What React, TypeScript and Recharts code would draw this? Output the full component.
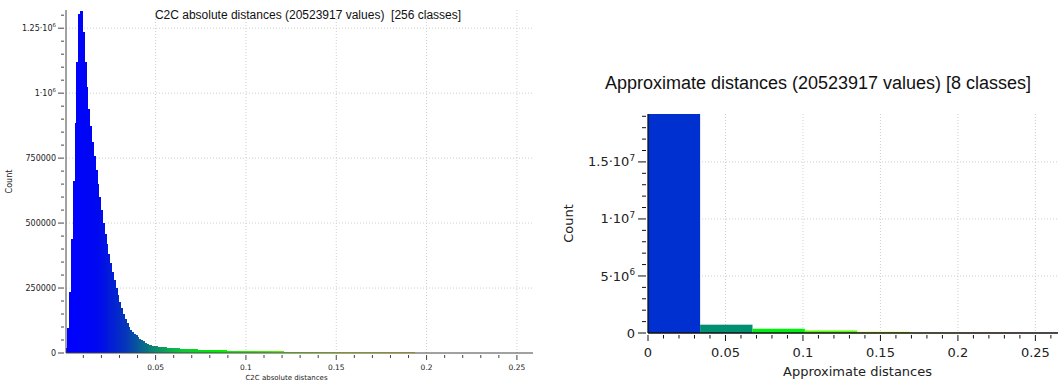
import { BarChart, Bar, Cell, XAxis, YAxis, CartesianGrid } from "recharts";

// ---- C2C absolute distances (left histogram, 256 classes) ----
const c2cTitle = "C2C absolute distances (20523917 values)  [256 classes]";
const c2cRange = [0.0004, 0.2589];
const c2cYMax = 1320000;
const c2cXMajor = [0.05, 0.1, 0.15, 0.2, 0.25];
const c2cYMajor = [0, 250000, 500000, 750000, 1000000, 1250000];
const c2cCounts = [
  18000, 95000, 236000, 440000, 662000, 884000, 1118000, 1306000, 1318000, 1236000,
  1118000, 1022000, 940000, 873000, 812000, 757000, 703000, 651000, 600000, 549000,
  501000, 458000, 419000, 381000, 346000, 312000, 280000, 250000, 222000, 196000,
  172000, 150000, 131000, 114000, 100000, 89000, 80500, 74000, 67500, 61000,
  55000, 49500, 44500, 40000, 36000, 32500, 29500, 27500, 26300, 25400,
  24600, 23700, 22900, 22200, 21600, 20900, 20300, 19800, 19200, 18700,
  18100, 17600, 17200, 16700, 16300, 15800, 15400, 15100, 14700, 14300,
  14000, 13700, 13300, 13000, 12800, 12500, 12200, 11900, 11700, 11400,
  11200, 10900, 10700, 10500, 10300, 10100, 9900, 9700, 9500, 9400,
  9200, 9000, 8900, 8700, 8600, 8400, 8300, 8100, 8000, 7900,
  7700, 7600, 7500, 7400, 7200, 7100, 7000, 6900, 6800, 6700,
  6600, 6500, 6400, 6300, 6200, 6100, 6000, 5900, 5850, 5750,
  5650, 5600, 5500, 5400, 5350, 5250, 5200, 5100, 5050, 4950,
  4900, 4800, 4750, 4700, 4600, 4550, 4500, 4400, 4350, 4300,
  4200, 4150, 4100, 4050, 4000, 3900, 3850, 3800, 3750, 3700,
  3650, 3600, 3550, 3500, 3450, 3400, 3350, 3300, 3250, 3200,
  3150, 3100, 3050, 3000, 2950, 2920, 2880, 2830, 2790, 2750,
  2700, 2660, 2620, 2580, 2540, 2500, 2460, 2420, 2380, 2350,
  2310, 2270, 2230, 2200, 2160, 2120, 2090, 2050, 2020, 1980,
  1950, 1910, 1880, 1850, 1810, 1780, 1750, 1720, 1690, 1660,
  1620, 1590, 1560, 1530, 1500, 1470, 1440, 1410, 1380, 1350,
  1320, 1300, 1270, 1240, 1210, 1180, 1160, 1130, 1100, 1080,
  1050, 1020, 1000, 970, 950, 920, 900, 870, 850, 830,
  800, 780, 760, 740, 710, 690, 670, 650, 630, 610,
  590, 570, 550, 530, 510, 490, 470, 450, 440, 420,
  400, 380, 360, 340, 320, 300,
];

// ---- Approximate distances (right histogram, 8 classes) ----
const approxTitle = "Approximate distances (20523917 values) [8 classes]";
const approxRange = [0, 0.2704];
const approxYMax = 19200000;
const approxXMajor = [0, 0.05, 0.1, 0.15, 0.2, 0.25];
const approxYMajor = [0, 5000000, 10000000, 15000000];
const approxCounts = [19200000, 730000, 375000, 220000, 110000, 55000, 25000, 12000];

const SANS = "'Liberation Sans', Arial, sans-serif";
const VERD = "'DejaVu Sans', Verdana, sans-serif";

// plot-area widths (chart width minus margins and y-axis width)
const C2C_PLOT_W = 560 - 27 - 6 - 60;
const APPROX_PLOT_W = 520 - 13 - 8 - 80;

const steps = (from: number, to: number, step: number) => {
  const out: number[] = [];
  for (let i = 0; from + i * step <= to + step * 1e-6; i++) out.push(+(from + i * step).toFixed(6));
  return out;
};

// histogram rows: class centre on the numeric axis + count
const toBins = (counts: number[], range: number[]) => {
  const w = (range[1] - range[0]) / counts.length;
  return counts.map((count, i) => ({ bin: i, x: range[0] + (i + 0.5) * w, count }));
};

type RGB = [number, number, number];
type Stop = [number, RGB];

// blue > green > yellow > red, slightly stretched on the blue side like the left plot
const c2cStops: Stop[] = [
  [0, [0, 0, 255]],
  [0.07, [0, 8, 240]],
  [0.13, [6, 55, 185]],
  [0.19, [12, 135, 112]],
  [0.25, [12, 200, 55]],
  [0.33, [0, 235, 0]],
  [0.6, [190, 235, 0]],
  [0.8, [225, 200, 30]],
  [1, [200, 90, 60]],
];
const approxStops: Stop[] = [
  [0, [0, 0, 255]],
  [1 / 3, [0, 255, 0]],
  [2 / 3, [255, 255, 0]],
  [1, [255, 0, 0]],
];

const colorAt = (stops: Stop[], t: number) => {
  let i = 1;
  while (i < stops.length - 1 && t > stops[i][0]) i++;
  const [t0, c0] = stops[i - 1];
  const [t1, c1] = stops[i];
  const f = Math.min(1, Math.max(0, (t - t0) / (t1 - t0)));
  const c = c0.map((v, k) => Math.round(v + (c1[k] - v) * f));
  return `rgb(${c[0]},${c[1]},${c[2]})`;
};

const isMajor = (v: number, majors: number[]) =>
  majors.some((m) => Math.abs(m - v) <= 1e-9 * Math.max(1, Math.abs(m)));

const fmtX = (v: number) => String(+v.toFixed(3));

const sciParts = (v: number): [string, string] => {
  if (v < 1e6) return [String(v), ""];
  const e = Math.floor(Math.log10(v) + 1e-9);
  const m = Math.round((v / 10 ** e) * 100) / 100;
  return [`${m}·10`, String(e)];
};

const XTick = (p: any) => {
  const { x, y, payload, majors, majorLen, minorLen, labelDy, size, font, color } = p;
  const major = isMajor(payload.value, majors);
  return (
    <g>
      <line x1={x} x2={x} y1={y} y2={y + (major ? majorLen : minorLen)} stroke={color} />
      {major && (
        <text x={x} y={y + labelDy} dy="0.35em" textAnchor="middle" fontSize={size} fontFamily={font} fill="#222">
          {fmtX(payload.value)}
        </text>
      )}
    </g>
  );
};

const YTick = (p: any) => {
  const { x, y, payload, majors, majorLen, minorLen, gap, size, font, color } = p;
  const major = isMajor(payload.value, majors);
  const [base, exp] = sciParts(payload.value);
  return (
    <g>
      <line x1={x} x2={x - (major ? majorLen : minorLen)} y1={y} y2={y} stroke={color} />
      {major && (
        <text x={x - gap} y={y} dy="0.35em" textAnchor="end" fontSize={size} fontFamily={font} fill="#222">
          {base}
          {exp && (
            <tspan fontSize={size * 0.68} dy={-size * 0.45}>
              {exp}
            </tspan>
          )}
        </text>
      )}
    </g>
  );
};

// bar drawn over the whole class width, pixel-snapped so neighbours leave no seams
const BinBar = (p: any) => {
  if (!p.height || p.height <= 0) return null;
  const w = p.binWidth + p.overlap;
  const cx = p.x + p.width / 2;
  return (
    <rect
      x={cx - w / 2}
      y={p.y}
      width={w}
      height={p.height}
      fill={p.fill}
      shapeRendering={p.crisp ? "crispEdges" : undefined}
    />
  );
};

const c2cData = toBins(c2cCounts, c2cRange);
const approxData = toBins(approxCounts, approxRange);

function C2CHistogram() {
  return (
    <BarChart
      width={560}
      height={381}
      data={c2cData}
      barCategoryGap={0}
      barGap={0}
      margin={{ top: 10, right: 27, bottom: 0, left: 6 }}>
      <CartesianGrid
        verticalValues={c2cXMajor}
        horizontalValues={c2cYMajor.slice(1)}
        stroke="#cfcfcf"
        strokeDasharray="1 2"
      />
      <XAxis
        dataKey="x"
        type="number"
        domain={c2cRange}
        allowDataOverflow
        ticks={steps(0.01, 0.25, 0.01)}
        interval={0}
        tickSize={0}
        tickLine={false}
        height={28}
        axisLine={{ stroke: "#444" }}
        tick={<XTick majors={c2cXMajor} majorLen={5} minorLen={3} labelDy={12} size={7.5} font={VERD} color="#444" />}
        label={{
          value: "C2C absolute distances",
          position: "insideBottom",
          offset: 1,
          dx: -13,
          fontSize: 7,
          fontFamily: VERD,
          fill: "#222",
        }}
      />
      <YAxis
        type="number"
        domain={[0, c2cYMax]}
        allowDataOverflow
        ticks={steps(0, 1300000, 50000)}
        interval={0}
        tickSize={0}
        tickLine={false}
        width={60}
        axisLine={{ stroke: "#444" }}
        tick={<YTick majors={c2cYMajor} majorLen={6} minorLen={3} gap={8} size={8} font={VERD} color="#444" />}
        label={{
          value: "Count",
          angle: -90,
          position: "insideLeft",
          offset: 3,
          style: { textAnchor: "middle" },
          fontSize: 8,
          fontFamily: VERD,
          fill: "#222",
        }}
      />
      <Bar
        dataKey="count"
        barSize={(C2C_PLOT_W / c2cCounts.length) * 0.99}
        shape={<BinBar binWidth={C2C_PLOT_W / c2cCounts.length} overlap={1} crisp />}
        isAnimationActive={false}>
        {c2cData.map((d) => (
          <Cell key={d.bin} fill={colorAt(c2cStops, (d.bin + 0.5) / c2cCounts.length)} />
        ))}
      </Bar>
    </BarChart>
  );
}

function ApproxHistogram() {
  return (
    <BarChart
      width={520}
      height={381}
      data={approxData}
      barCategoryGap={0}
      barGap={0}
      margin={{ top: 114, right: 13, bottom: 5, left: 8 }}>
      <CartesianGrid
        verticalValues={approxXMajor.slice(1)}
        horizontalValues={approxYMajor.slice(1)}
        stroke="#cfcfcf"
        strokeDasharray="1 2"
      />
      <XAxis
        dataKey="x"
        type="number"
        domain={approxRange}
        allowDataOverflow
        ticks={steps(0, 0.27, 0.01)}
        interval={0}
        tickSize={0}
        tickLine={false}
        height={43}
        axisLine={{ stroke: "#111", strokeWidth: 1.3 }}
        tick={<XTick majors={approxXMajor} majorLen={6} minorLen={3.5} labelDy={17.5} size={13} font={VERD} color="#111" />}
        label={{
          value: "Approximate distances",
          position: "insideBottom",
          offset: 0,
          fontSize: 13,
          fontFamily: VERD,
          fill: "#222",
        }}
      />
      <YAxis
        type="number"
        domain={[0, approxYMax]}
        allowDataOverflow
        ticks={steps(0, 19000000, 1000000)}
        interval={0}
        tickSize={0}
        tickLine={false}
        width={80}
        axisLine={{ stroke: "#111", strokeWidth: 1.3 }}
        tick={<YTick majors={approxYMajor} majorLen={8} minorLen={4} gap={11} size={13} font={VERD} color="#111" />}
        label={{
          value: "Count",
          angle: -90,
          position: "insideLeft",
          offset: 0,
          style: { textAnchor: "middle" },
          fontSize: 13,
          fontFamily: VERD,
          fill: "#222",
        }}
      />
      <Bar
        dataKey="count"
        barSize={(APPROX_PLOT_W / approxCounts.length) * 0.99}
        shape={<BinBar binWidth={APPROX_PLOT_W / approxCounts.length} overlap={0} />}
        isAnimationActive={false}>
        {approxData.map((d) => (
          <Cell key={d.bin} fill={colorAt(approxStops, (d.bin + 0.5) / approxCounts.length)} />
        ))}
      </Bar>
    </BarChart>
  );
}

export default function App() {
  return (
    <div
      style={{
        position: "fixed",
        left: 0,
        top: 0,
        width: 1058,
        height: 381,
        overflow: "hidden",
        background: "#fff",
      }}>
      <div style={{ position: "absolute", left: 0, top: 0 }}>
        <C2CHistogram />
      </div>
      <div style={{ position: "absolute", left: 560, top: 0 }}>
        <ApproxHistogram />
      </div>
      {/* Titles */}
      <div
        style={{
          position: "absolute",
          left: 0,
          top: 8,
          width: 616,
          textAlign: "center",
          whiteSpace: "pre",
          fontFamily: SANS,
          fontSize: 12,
          lineHeight: "14px",
          color: "#111",
        }}>
        {c2cTitle}
      </div>
      <div
        style={{
          position: "absolute",
          left: 560,
          top: 73,
          width: 516,
          textAlign: "center",
          whiteSpace: "pre",
          fontFamily: SANS,
          fontSize: 18,
          lineHeight: "21px",
          color: "#111",
        }}>
        {approxTitle}
      </div>
    </div>
  );
}
